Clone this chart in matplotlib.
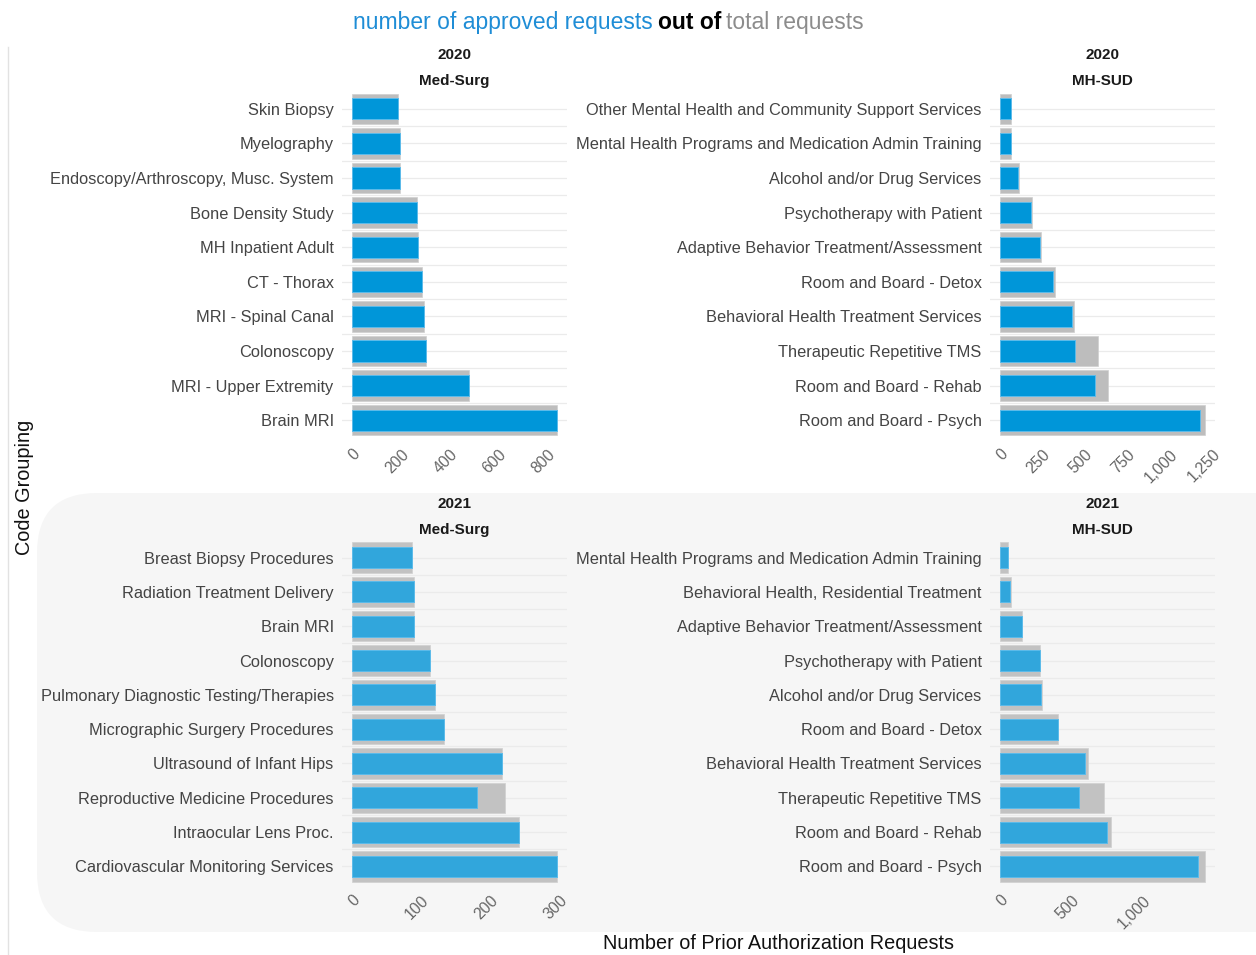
import matplotlib
matplotlib.use("Agg")
import matplotlib.pyplot as plt
from matplotlib.patches import FancyBboxPatch
from matplotlib.lines import Line2D
from matplotlib.transforms import IdentityTransform
import numpy as np

# ====== DATA (top to bottom in each panel) ======
ms20_labels = ["Skin Biopsy", "Myelography", "Endoscopy/Arthroscopy, Musc. System",
               "Bone Density Study", "MH Inpatient Adult", "CT - Thorax",
               "MRI - Spinal Canal", "Colonoscopy", "MRI - Upper Extremity", "Brain MRI"]
ms20_approved = [189, 195, 195, 265, 270, 287, 295, 300, 477, 837]
ms20_total = [189, 195, 195, 265, 270, 287, 295, 300, 477, 837]

mh20_labels = ["Other Mental Health and Community Support Services",
               "Mental Health Programs and Medication Admin Training",
               "Alcohol and/or Drug Services", "Psychotherapy with Patient",
               "Adaptive Behavior Treatment/Assessment", "Room and Board - Detox",
               "Behavioral Health Treatment Services", "Therapeutic Repetitive TMS",
               "Room and Board - Rehab", "Room and Board - Psych"]
mh20_approved = [61, 63, 106, 184, 235, 310, 422, 441, 559, 1174]
mh20_total = [61, 65, 110, 186, 241, 322, 433, 576, 633, 1205]

ms21_labels = ["Breast Biopsy Procedures", "Radiation Treatment Delivery", "Brain MRI",
               "Colonoscopy", "Pulmonary Diagnostic Testing/Therapies",
               "Micrographic Surgery Procedures", "Ultrasound of Infant Hips",
               "Reproductive Medicine Procedures", "Intraocular Lens Proc.",
               "Cardiovascular Monitoring Services"]
ms21_approved = [86, 89, 89, 112, 120, 133, 217, 180, 241, 296]
ms21_total = [86, 89, 89, 112, 120, 133, 217, 221, 241, 296]

mh21_labels = ["Mental Health Programs and Medication Admin Training",
               "Behavioral Health, Residential Treatment",
               "Adaptive Behavior Treatment/Assessment", "Psychotherapy with Patient",
               "Alcohol and/or Drug Services", "Room and Board - Detox",
               "Behavioral Health Treatment Services", "Therapeutic Repetitive TMS",
               "Room and Board - Rehab", "Room and Board - Psych"]
mh21_approved = [51, 68, 149, 279, 288, 402, 595, 553, 746, 1382]
mh21_total = [51, 72, 153, 281, 293, 404, 611, 727, 772, 1429]

ms20_ticks = [0, 200, 400, 600, 800]
mh20_ticks = [0, 250, 500, 750, 1000, 1250]
ms21_ticks = [0, 100, 200, 300]
mh21_ticks = [0, 500, 1000]

# ====== LAYOUT (pixels) ======
W, H = 1256, 955
plt.rcParams['font.family'] = ['Liberation Sans', 'DejaVu Sans']

fig = plt.figure(figsize=(W / 100, H / 100), dpi=100)
fig.patch.set_facecolor("white")


def rect(l, r, t, b):
    return [l / W, 1 - b / H, (r - l) / W, (b - t) / H]


# soft rounded background behind the 2021 row
bg = FancyBboxPatch((37, H - 932), 1300, 932 - 493,
                    boxstyle="round,pad=0,rounding_size=60",
                    transform=IdentityTransform(), facecolor="#f6f6f6",
                    edgecolor="none", zorder=0)
fig.add_artist(bg)
fig.add_artist(Line2D([8 / W, 8 / W], [0, 1 - 47 / H], transform=fig.transFigure,
                      color="#e2e2e2", lw=1))

panels = [
    (ms20_labels, ms20_approved, ms20_total, ms20_ticks, (342, 567, 88, 441), "2020", "Med-Surg", "#0096d9", "#bdbdbd"),
    (mh20_labels, mh20_approved, mh20_total, mh20_ticks, (990, 1215, 88, 441), "2020", "MH-SUD", "#0096d9", "#bdbdbd"),
    (ms21_labels, ms21_approved, ms21_total, ms21_ticks, (342, 567, 537, 887), "2021", "Med-Surg", "#31a6dc", "#c2c2c2"),
    (mh21_labels, mh21_approved, mh21_total, mh21_ticks, (990, 1215, 537, 887), "2021", "MH-SUD", "#31a6dc", "#c2c2c2"),
]

for labels, approved, total, ticks, box, year, group, blue, grey in panels:
    l, r, t, b = box
    ax = fig.add_axes(rect(l, r, t, b))
    ax.set_facecolor("none")
    y = np.arange(len(labels))

    # grid lines (major at categories, minor in between)
    for yy in y:
        ax.axhline(yy, color="#ebebeb", lw=0.9, zorder=0)
    for yy in y[:-1] + 0.5:
        ax.axhline(yy, color="#ebebeb", lw=0.9, zorder=0)

    ax.barh(y, total, height=0.88, color=grey, edgecolor="#d0d0d0", lw=0.5, zorder=2)
    ax.barh(y, approved, height=0.61, color=blue, edgecolor="#5cbbea", lw=0.7, zorder=3)

    mx = max(total)
    ax.set_xlim(-0.05 * mx, 1.05 * mx)
    ax.set_ylim(len(labels) - 0.4, -0.6)

    ax.set_yticks(y)
    ax.set_yticklabels(labels, fontsize=11.8, color="#444444")
    ax.set_xticks(ticks)
    ax.set_xticklabels([f"{v:,}" for v in ticks], fontsize=11.3, color="#666666",
                       rotation=45, ha="right", va="top", rotation_mode="anchor")
    ax.tick_params(axis="both", length=0)
    ax.tick_params(axis="y", pad=6)
    ax.tick_params(axis="x", pad=4)
    for s in ax.spines.values():
        s.set_visible(False)

    cx = (l + r) / 2 / W
    fig.text(cx, 1 - (t - 33) / H, year, ha="center", va="center",
             fontsize=11, fontweight="bold", color="#1a1a1a")
    fig.text(cx, 1 - (t - 7) / H, group, ha="center", va="center",
             fontsize=11, fontweight="bold", color="#1a1a1a")

# axis titles
fig.text(25 / W, 1 - 487 / H, "Code Grouping", rotation=90, ha="center", va="center",
         fontsize=14.3, color="#111111")
fig.text(779 / W, 1 - 943 / H, "Number of Prior Authorization Requests", ha="center",
         va="center", fontsize=14.3, color="#111111")

# ====== TITLE (three coloured parts) ======
fig.canvas.draw()
rend = fig.canvas.get_renderer()
title_font = ['Liberation Sans Narrow', 'Liberation Sans', 'DejaVu Sans']
parts = [("number of approved requests", "#1f8dd6", "normal"),
         ("out of", "#000000", "bold"),
         ("total requests", "#8c8c8c", "normal")]
x = 353
for txt, col, wt in parts:
    tt = fig.text(x / W, 1 - 29 / H, txt, color=col, fontsize=16.5, fontweight=wt,
                  family=title_font, ha="left", va="baseline")
    bb = tt.get_window_extent(rend)
    x = bb.x1 + 5

fig.savefig("out.png", dpi=100)
